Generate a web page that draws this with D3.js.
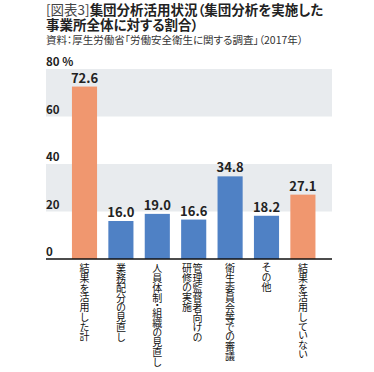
<!DOCTYPE html>
<html><head><meta charset="utf-8">
<script src="https://cdn.jsdelivr.net/npm/d3@7/dist/d3.min.js"></script>
<style>
html,body{margin:0;padding:0;background:#fff;}
svg{display:block;font-family:"Noto Sans CJK JP","Noto Sans",sans-serif;}
.ttl{font-feature-settings:"palt";}
.vert{writing-mode:vertical-rl;text-orientation:upright;font-feature-settings:"vpal";}
</style></head>
<body>
<svg id="c" width="374" height="372"></svg>
<script>
const categories = [
  ["結果を活用した計"],
  ["業務配分の見直し"],
  ["人員体制・組織の見直し"],
  ["管理監督者向けの","研修の実施"],
  ["衛生委員会等での審議"],
  ["その他"],
  ["結果を活用していない"]
];
const values = [72.6, 16.0, 19.0, 16.6, 34.8, 18.2, 27.1];
const highlight = [true, false, false, false, false, false, true];
const yTicks = [0, 20, 40, 60, 80];
const titleLines = ["集団分析活用状況（集団分析を実施した", "事業所全体に対する割合）"];
const titlePrefix = "[図表3]";
const source = "資料：厚生労働省「労働安全衛生に関する調査」（2017年）";

const svg = d3.select("#c");
const plotL = 46, plotR = 332;
const y = d3.scaleLinear().domain([0, 80]).range([259, 69]);
const x = d3.scaleBand().domain(d3.range(values.length)).range([66.3, 321.1])
  .paddingInner(0.31).paddingOuter(0.155);

// title (single text element with two styled parts)
const t1 = svg.append("text").attr("class", "ttl").attr("x", 46).attr("y", 15)
  .attr("font-size", 13.5).attr("fill", "#222");
t1.append("tspan").attr("font-weight", 400).attr("fill", "#444").text(titlePrefix);
t1.append("tspan").attr("font-weight", 700).text(titleLines[0]);
svg.append("text").attr("class", "ttl").attr("x", 46).attr("y", 29.5).attr("font-size", 13.5)
  .attr("font-weight", 700).attr("fill", "#222").text(titleLines[1]);
svg.append("text").attr("class", "ttl").attr("x", 46).attr("y", 44).attr("font-size", 10.5)
  .attr("fill", "#333").text(source);

// grid bands
const bands = d3.range(yTicks.length - 1).filter(i => i % 2 === 1);
svg.selectAll("rect.band").data(bands).enter().append("rect")
  .attr("x", plotL).attr("width", plotR - plotL)
  .attr("y", i => y(yTicks[i + 1])).attr("height", i => y(yTicks[i]) - y(yTicks[i + 1]))
  .attr("fill", "#e8ebee");

// tick labels
svg.selectAll("text.tick").data(yTicks).enter().append("text")
  .attr("x", plotL).attr("y", d => y(d) - 3)
  .attr("font-size", 11.5).attr("font-weight", 700).attr("fill", "#222")
  .text(d => d === 80 ? "80 %" : d);

// bars
svg.selectAll("rect.bar").data(values).enter().append("rect")
  .attr("x", (d, i) => x(i)).attr("width", x.bandwidth())
  .attr("y", d => y(d)).attr("height", d => y(0) - y(d))
  .attr("fill", (d, i) => highlight[i] ? "#f0976f" : "#4f81c5");

// value labels
svg.selectAll("text.val").data(values).enter().append("text")
  .attr("x", (d, i) => x(i) + x.bandwidth() / 2).attr("y", d => y(d) - 4)
  .attr("text-anchor", "middle").attr("font-size", 13).attr("font-weight", 700).attr("fill", "#222")
  .text(d => d.toFixed(1));

// baseline
svg.append("line").attr("x1", plotL).attr("x2", plotR).attr("y1", y(0)).attr("y2", y(0))
  .attr("stroke", "#111").attr("stroke-width", 1.5);

// category labels (vertical)
categories.forEach((lines, i) => {
  const n = lines.length;
  const cx = x(i) + x.bandwidth() / 2 - (n - 1) * 1.5;
  lines.forEach((s, j) => {
    const off = (n - 1) * 5.3 - j * 10.6;
    svg.append("text").attr("class", "vert")
      .attr("x", cx + off).attr("y", 263)
      .attr("font-size", 10).attr("fill", "#111")
      .text(s);
  });
});
</script>
</body></html>
